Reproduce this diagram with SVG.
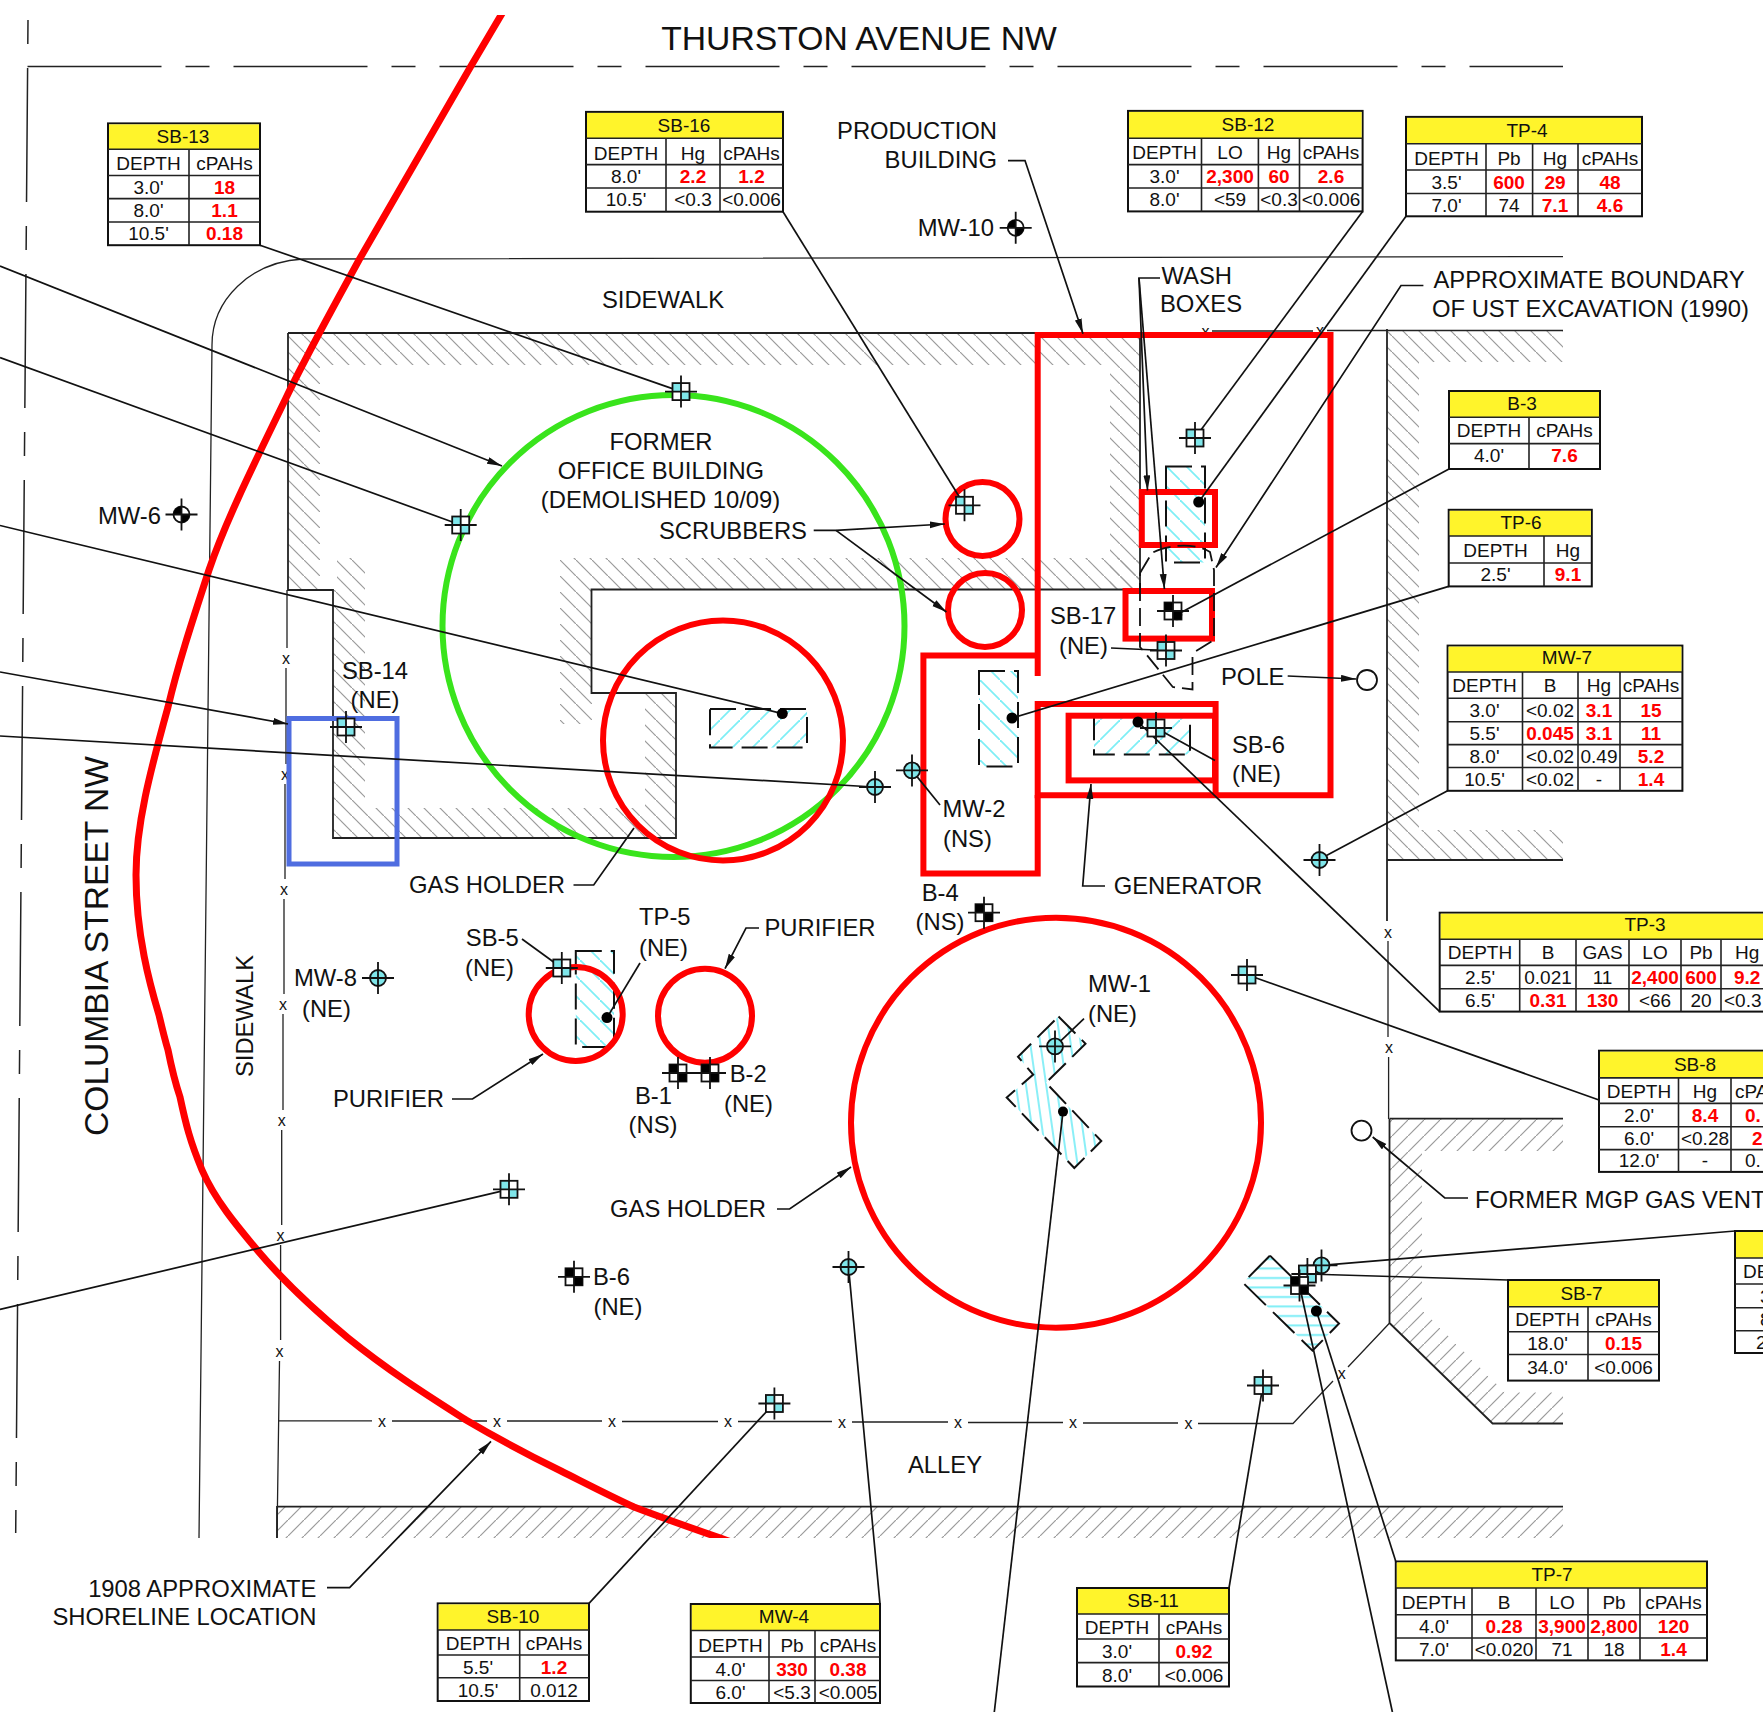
<svg xmlns="http://www.w3.org/2000/svg" width="1763" height="1712" viewBox="0 0 1763 1712">
<style>
text{font-family:"Liberation Sans",Arial,sans-serif;fill:#111}
.l{font-size:23.8px}
.e{text-anchor:end}
.m{text-anchor:middle}
.c{font-size:19px;text-anchor:middle;dominant-baseline:central}
.s{font-size:19px;dominant-baseline:central}
.v{font-weight:bold;fill:#ff0000}
.x{font-size:16px;text-anchor:middle;dominant-baseline:central}
.hd{fill:#fff42b}
.tb{fill:#fff;stroke:#111;stroke-width:2}
.gl{fill:none;stroke:#222;stroke-width:1.6}
.ld{fill:none;stroke:#111;stroke-width:1.7}
.fn{fill:none;stroke:#222;stroke-width:1.3}
.wl{fill:none;stroke:#222;stroke-width:1.8}
.rd{fill:none;stroke:#ff0000;stroke-width:6}
.ds{stroke:#111;stroke-width:2;stroke-dasharray:26 9}
.dot{fill:#000}
</style>
<defs>
<clipPath id="shc"><rect x="0" y="15" width="1763" height="1523"/></clipPath>
<pattern id="hb" patternUnits="userSpaceOnUse" width="16" height="16"><path d="M-2,-2L18,18" stroke="#9a9a9a" stroke-width="1.2"/></pattern>
<pattern id="hf" patternUnits="userSpaceOnUse" width="16" height="16"><path d="M18,-2L-2,18" stroke="#9a9a9a" stroke-width="1.2"/></pattern>
<pattern id="cb" patternUnits="userSpaceOnUse" width="20" height="20"><path d="M-2,-2L22,22" stroke="#7eeef6" stroke-width="1.8"/></pattern>
<pattern id="cf" patternUnits="userSpaceOnUse" width="20" height="20"><path d="M22,-2L-2,22" stroke="#7eeef6" stroke-width="1.8"/></pattern>
<pattern id="cv" patternUnits="userSpaceOnUse" width="10" height="10" patternTransform="rotate(-8)"><path d="M5,0V10" stroke="#7eeef6" stroke-width="1.8"/></pattern>
<pattern id="ch" patternUnits="userSpaceOnUse" width="10" height="9.5"><path d="M0,5H10" stroke="#7eeef6" stroke-width="2"/></pattern>
<marker id="ar" markerUnits="userSpaceOnUse" markerWidth="16" markerHeight="8" refX="15" refY="3.5" orient="auto"><path d="M0,0L15,3.5L0,7Z" fill="#111"/></marker>
<g id="sb"><rect x="-8.5" y="-8.5" width="17" height="17" fill="#fff"/><path d="M-8.5,-8.5H0V0H-8.5ZM0,0H8.5V8.5H0Z" fill="#7fe6ea"/><rect x="-8.5" y="-8.5" width="17" height="17" fill="none" stroke="#111" stroke-width="1.8"/><path d="M-16,0H16M0,-16V16" stroke="#111" stroke-width="1.8"/></g>
<g id="bb"><rect x="-8.5" y="-8.5" width="17" height="17" fill="#fff" stroke="#111" stroke-width="1.8"/><path d="M-8.5,-8.5H0V0H-8.5ZM0,0H8.5V8.5H0Z" fill="#000"/><path d="M-16,0H16M0,-16V16" stroke="#111" stroke-width="1.8"/></g>
<g id="mw"><circle r="8" fill="#7fe6ea" stroke="#111" stroke-width="1.8"/><path d="M-16,0H16M0,-16V16" stroke="#111" stroke-width="1.8"/></g>
<g id="mk"><circle r="8" fill="#fff" stroke="#111" stroke-width="1.8"/><path d="M0,-8A8,8 0 0 0 -8,0H0ZM0,0V8A8,8 0 0 0 8,0Z" fill="#000"/><path d="M-16,0H16M0,-16V16" stroke="#111" stroke-width="1.8"/></g>
</defs>
<rect width="1763" height="1712" fill="#fff"/>

<g id="site">
<path d="M27.5,66.4H1563" fill="none" stroke="#222" stroke-width="1.5" stroke-dasharray="134 24 24 24"/>
<path d="M28,20L15.7,1533" fill="none" stroke="#222" stroke-width="1.5" stroke-dasharray="24 24 134 24"/>
<path class="fn" d="M1563,256.6L303,259C250,262 212,300 212,345L199,1538"/>
<path fill="url(#hb)" d="M288,334H1140V589H1110V365H320V590H288Z"/>
<path fill="url(#hb)" d="M560,558H1140V589H592V724H560Z"/>
<path fill="url(#hb)" d="M337,558H365V808H645V693H676V838H333V590H337Z"/>
<path fill="url(#hb)" d="M1387,330H1563V362H1419V830H1563V860H1387Z"/>
<path fill="url(#hf)" d="M1390,1118.7H1563V1151H1422V1310L1505,1392.5H1563V1423.5H1492.6L1390,1323Z"/>
<path fill="url(#hf)" d="M277,1507H1563V1538H277Z"/>
<path class="wl" d="M288,333V590H333V838H676V693H591.5V589.5H1140V333M288,333H1195"/>
<path class="wl" d="M1387,329V921M1387,860H1563M1389.5,1118.7H1563M1389.5,1118.7V1323L1492.6,1423.5H1563M277,1506.6H1563M277,1538V1506"/>
<path class="fn" d="M1212,331H1313M1327,330.5H1563M1195,333H1199M287,590V648M286,668V764M285,784V879M284,899V994M283,1014V1110M281.7,1130V1225M280.6,1245V1340M279.5,1361L277,1538M278,1420.8H372M392,1421H487M507,1421H602M622,1421.5H718M738,1421.5H832M852,1422H948M968,1422.5H1063M1083,1423H1178M1198,1423.5H1293L1333,1381M1348,1367L1389.6,1323M1388,941V1037M1388.6,1057V1119"/>
<text class="x" x="1205.5" y="331">x</text><text class="x" x="1320" y="330">x</text>
<text class="x" x="286" y="658">x</text><text class="x" x="285" y="774">x</text><text class="x" x="284" y="889">x</text><text class="x" x="283" y="1004">x</text><text class="x" x="281.7" y="1120">x</text><text class="x" x="280.6" y="1235">x</text><text class="x" x="279.5" y="1351">x</text>
<text class="x" x="382" y="1421">x</text><text class="x" x="497" y="1421">x</text><text class="x" x="612" y="1421">x</text><text class="x" x="728" y="1421">x</text><text class="x" x="842" y="1422">x</text><text class="x" x="958" y="1422">x</text><text class="x" x="1073" y="1422">x</text><text class="x" x="1188.6" y="1423">x</text><text class="x" x="1341.7" y="1373.5">x</text>
<text class="x" x="1388" y="932">x</text><text class="x" x="1389" y="1047">x</text>
<circle cx="1367" cy="680" r="10" fill="#fff" stroke="#111" stroke-width="1.8"/>
<circle cx="1361.5" cy="1130.6" r="10" fill="#fff" stroke="#111" stroke-width="1.8"/>
</g>

<g id="excavations">
<rect class="ds" x="710" y="709" width="97" height="38.6" fill="url(#cf)"/>
<rect class="ds" x="1166" y="466.5" width="39" height="96" fill="url(#cb)"/>
<rect class="ds" x="979" y="671" width="39" height="95.5" fill="url(#cb)"/>
<rect class="ds" x="1094" y="715.7" width="96" height="38.8" fill="url(#cf)"/>
<rect class="ds" x="575.8" y="951" width="38.2" height="96" fill="url(#cb)"/>
<path class="ds" style="stroke-dasharray:24 9" fill="url(#cv)" d="M1058.5,1016.5L1085.5,1043.7L1046,1082.8L1101.3,1141L1074.3,1168L1006.7,1097.5L1033.2,1074.6L1018,1056.7Z"/>
<path class="ds" style="stroke-dasharray:30 10" fill="url(#ch)" d="M1270,1255.6L1339,1323.5L1312.5,1350.7L1243,1282.8Z"/>
</g>

<g id="outlines">
<path clip-path="url(#shc)" d="M510,0L471,66L359,260C330,313 305,358 286,398C255,462 226,520 209,570C190,628 178,665 168,707C150,772 136,825 136,875C136,935 150,985 159,1015C163,1032 165,1040 168,1050C172,1070 176,1085 180,1097C186,1125 190,1141 202,1170C215,1200 237,1226 258,1251C285,1283 318,1313 348,1338C390,1372 430,1397 466,1420C500,1440 530,1456 561,1471C585,1483 610,1496 634,1507C665,1519 700,1531 740,1545" fill="none" stroke="#ff0000" stroke-width="7"/>
<circle cx="673.5" cy="626" r="231" fill="none" stroke="#39e41c" stroke-width="6"/>
<rect x="289" y="718.5" width="108" height="145.5" fill="none" stroke="#4f6de0" stroke-width="5"/>
<circle class="rd" cx="723" cy="740.5" r="120"/>
<circle class="rd" cx="982.5" cy="519" r="37"/>
<circle class="rd" cx="985" cy="610" r="37"/>
<circle class="rd" cx="575.7" cy="1014" r="47"/>
<circle class="rd" cx="705" cy="1015.7" r="47"/>
<circle class="rd" cx="1056" cy="1122.7" r="205"/>
<path class="rd" d="M1037.7,676V335H1330.5V795.3H1037.7V704H1215.6V795.3"/>
<path class="rd" d="M1037.7,655.5H923.4V873.6H1037.7V795"/>
<rect class="rd" x="1068.6" y="715.7" width="146.4" height="64.7"/>
<rect class="rd" x="1141.8" y="492" width="73.2" height="53"/>
<rect class="rd" x="1125.5" y="591" width="86.5" height="47.6"/>
<path d="M1140,573L1152,553C1165,545 1195,542 1210,552L1214,570V640L1196,651M1192.5,657V689.4L1172.8,687L1146,654L1140,647V573" fill="none" stroke="#111" stroke-width="1.8" stroke-dasharray="18 7"/>
</g>

<g id="connectors">
<path class="ld" d="M260,245.2L681,391.6"/>
<path class="ld" marker-end="url(#ar)" d="M0,266L502,466"/>
<path class="ld" d="M0,357.6L460.7,525"/>
<path class="ld" d="M0,525.5L782.3,713.6"/>
<path class="ld" marker-end="url(#ar)" d="M0,672L288,724"/>
<path class="ld" d="M0,736L874,787"/>
<path class="ld" d="M783,211.7L964.5,505.3"/>
<path class="ld" marker-end="url(#ar)" d="M1008,160.6H1025L1083,333.7"/>
<path class="ld" marker-end="url(#ar)" d="M1160,278H1139L1147.5,490.4"/>
<path class="ld" marker-end="url(#ar)" d="M1139,278L1164.4,589"/>
<path class="ld" d="M1362.6,211.4L1195,438"/>
<path class="ld" d="M1406,216.3L1198.7,502"/>
<path class="ld" marker-end="url(#ar)" d="M1423.4,285.5H1401L1216,567.5"/>
<path class="ld" d="M1449,469L1176.8,614.8"/>
<path class="ld" d="M1448.7,586.4L1012,718"/>
<path class="ld" d="M1447.6,790.8L1319,859.5"/>
<path class="ld" marker-end="url(#ar)" d="M813.7,530.4H836L944.8,524"/>
<path class="ld" marker-end="url(#ar)" d="M836,530.4L946.4,612"/>
<path class="ld" marker-end="url(#ar)" d="M1287.7,676L1356,679"/>
<path class="ld" d="M1111,648L1166,650.5"/>
<path class="ld" d="M1156,728L1215,760.5"/>
<path class="ld" d="M1439.7,1011.6L1138,722"/>
<path class="ld" marker-end="url(#ar)" d="M1105,886H1082.7L1091,784"/>
<path class="ld" d="M912,770.4L940,805"/>
<path class="ld" d="M573.5,885H593.7L634,828"/>
<path class="ld" d="M522,939L561.8,968"/>
<path class="ld" d="M640,963L607,1017.6"/>
<path class="ld" marker-end="url(#ar)" d="M759,928H746L725,968.7"/>
<path class="ld" marker-end="url(#ar)" d="M452,1099H472.5L543,1054"/>
<path class="ld" marker-end="url(#ar)" d="M777,1209H789.6L851,1167"/>
<path class="ld" d="M0,1309.4L509,1189.3"/>
<path class="ld" marker-end="url(#ar)" d="M327,1587.6H349.6L491,1441.4"/>
<path class="ld" d="M589,1603.4L774.4,1403"/>
<path class="ld" d="M880,1604L848.5,1267"/>
<path class="ld" d="M1084,1018.7L1055,1046.4"/>
<path class="ld" d="M1063,1111.6L994.3,1712"/>
<path class="ld" d="M1247,974.7L1599,1100"/>
<path class="ld" marker-end="url(#ar)" d="M1468,1198H1444.8L1372.7,1137"/>
<path class="ld" d="M1321.5,1265.4L1735,1231"/>
<path class="ld" d="M1307.4,1274L1508,1280"/>
<path class="ld" d="M1395.8,1561.5L1316.4,1311"/>
<path class="ld" d="M1299.5,1285.5L1392.4,1712"/>
<path class="ld" d="M1229,1588L1263,1385"/>
<circle class="dot" cx="782.3" cy="713.6" r="5.5"/><circle class="dot" cx="1198.7" cy="502" r="5.5"/><circle class="dot" cx="1176.8" cy="614.8" r="5.5"/><circle class="dot" cx="1012" cy="718" r="5.5"/><circle class="dot" cx="1138" cy="722" r="5.5"/><circle class="dot" cx="607" cy="1017.6" r="5.5"/><circle class="dot" cx="1063" cy="1111.6" r="5"/><circle class="dot" cx="1316.4" cy="1311" r="5.5"/>
</g>

<g id="markers">
<g id="m-sb13"><use href="#sb" x="681" y="391.6"/></g>
<g id="m-sbw1"><use href="#sb" x="460.7" y="525"/></g>
<g id="m-sb14"><use href="#sb" x="346" y="727"/></g>
<g id="m-mwc"><use href="#mw" x="875" y="787"/></g>
<g id="m-mw6"><use href="#mk" x="181.5" y="514.5"/></g>
<g id="m-sb16"><use href="#sb" x="964.5" y="505.3"/></g>
<g id="m-sb12"><use href="#sb" x="1195" y="438"/></g>
<g id="m-b3"><use href="#bb" x="1173" y="611"/></g>
<g id="m-sb17"><use href="#sb" x="1166" y="650.5"/></g>
<g id="m-mw2"><use href="#mw" x="912" y="770.4"/></g>
<g id="m-sb6"><use href="#sb" x="1156" y="728"/></g>
<g id="m-mw7"><use href="#mw" x="1319.5" y="860"/></g>
<g id="m-mw10"><use href="#mk" x="1015.7" y="227.8"/></g>
<g id="m-mw8"><use href="#mw" x="378" y="978"/></g>
<g id="m-sb5"><use href="#sb" x="561.8" y="968"/></g>
<g id="m-b1"><use href="#bb" x="678" y="1073"/></g>
<g id="m-b2"><use href="#bb" x="710" y="1073"/></g>
<g id="m-sbw2"><use href="#sb" x="509" y="1189.3"/></g>
<g id="m-b6"><use href="#bb" x="574" y="1276.8"/></g>
<g id="m-mw4"><use href="#mw" x="848.5" y="1267"/></g>
<g id="m-sb10"><use href="#sb" x="774.4" y="1403.5"/></g>
<g id="m-b4"><use href="#bb" x="984" y="912.7"/></g>
<g id="m-sb8"><use href="#sb" x="1247" y="975"/></g>
<g id="m-mw1"><use href="#mw" x="1055" y="1046.4"/></g>
<g id="m-mwe"><use href="#mw" x="1321.5" y="1265.4"/></g>
<g id="m-sb7"><use href="#sb" x="1307.4" y="1274"/></g>
<g id="m-be"><use href="#bb" x="1299.5" y="1285.5"/></g>
<g id="m-sb11"><use href="#sb" x="1263" y="1385.5"/></g>
</g>

<g id="labels">
<text class="m" x="859" y="50" style="font-size:33.7px">THURSTON AVENUE NW</text>
<text class="m" transform="translate(108,946) rotate(-90)" style="font-size:33.6px">COLUMBIA STREET NW</text>
<text class="l m" transform="translate(253,1016) rotate(-90)">SIDEWALK</text>
<text class="l m" x="663" y="308">SIDEWALK</text>
<text class="l m" x="661" y="449.8">FORMER</text>
<text class="l m" x="661" y="479.4">OFFICE BUILDING</text>
<text class="l m" x="660.5" y="508">(DEMOLISHED 10/09)</text>
<text class="l e" x="807" y="539">SCRUBBERS</text>
<text class="l m" x="375" y="679">SB-14</text><text class="l m" x="375" y="708">(NE)</text>
<text class="l e" x="161" y="523.8">MW-6</text>
<text class="l e" x="997" y="138.7">PRODUCTION</text><text class="l e" x="997" y="168">BUILDING</text>
<text class="l e" x="994" y="235.7">MW-10</text>
<text class="l" x="1161.5" y="284">WASH</text><text class="l" x="1160" y="312">BOXES</text>
<text class="l" x="1433.5" y="288">APPROXIMATE BOUNDARY</text><text class="l" x="1432" y="317.3">OF UST EXCAVATION (1990)</text>
<text class="l" x="1050" y="624">SB-17</text><text class="l" x="1059" y="654">(NE)</text>
<text class="l" x="1221" y="685">POLE</text>
<text class="l" x="1232" y="752.5">SB-6</text><text class="l" x="1232" y="782.4">(NE)</text>
<text class="l" x="942.5" y="817">MW-2</text><text class="l" x="943" y="846.5">(NS)</text>
<text class="l" x="409" y="893">GAS HOLDER</text>
<text class="l" x="1113.7" y="894">GENERATOR</text>
<text class="l" x="921.7" y="901">B-4</text><text class="l" x="915.6" y="929.6">(NS)</text>
<text class="l" x="1088" y="992">MW-1</text><text class="l" x="1088" y="1021.5">(NE)</text>
<text class="l" x="465.8" y="946">SB-5</text><text class="l" x="465" y="975.8">(NE)</text>
<text class="l" x="639" y="925.3">TP-5</text><text class="l" x="639" y="955.7">(NE)</text>
<text class="l" x="764.5" y="936">PURIFIER</text>
<text class="l" x="294" y="986">MW-8</text><text class="l" x="302" y="1016.6">(NE)</text>
<text class="l" x="333" y="1107">PURIFIER</text>
<text class="l" x="729.7" y="1082">B-2</text><text class="l" x="724" y="1111.7">(NE)</text>
<text class="l" x="635" y="1104">B-1</text><text class="l" x="628.6" y="1132.5">(NS)</text>
<text class="l" x="610" y="1217">GAS HOLDER</text>
<text class="l" x="593" y="1285">B-6</text><text class="l" x="593.5" y="1315">(NE)</text>
<text class="l e" x="316.5" y="1596.5">1908 APPROXIMATE</text><text class="l e" x="316.5" y="1625">SHORELINE LOCATION</text>
<text class="l" x="908" y="1473">ALLEY</text>
<text class="l" x="1475" y="1207.8">FORMER MGP GAS VENT</text>
</g>

<g id="t-sb13"><rect class="tb" x="108" y="123.4" width="152" height="121.8"/><rect class="hd" x="109" y="124.4" width="150" height="24.8"/>
<path class="gl" d="M108,149.2H260M108,175.5H260M108,198.6H260M108,222H260M189,149.2V245.2"/>
<text class="c" x="183" y="136.5">SB-13</text><text class="c" x="148.5" y="163">DEPTH</text><text class="c" x="224.5" y="163">cPAHs</text>
<text class="c" x="148.5" y="187">3.0'</text><text class="c v" x="224.5" y="187">18</text>
<text class="c" x="148.5" y="210">8.0'</text><text class="c v" x="224.5" y="210">1.1</text>
<text class="c" x="148.5" y="233">10.5'</text><text class="c v" x="224.5" y="233">0.18</text></g>

<g id="t-sb16"><rect class="tb" x="586" y="111.9" width="197" height="99.8"/><rect class="hd" x="587" y="112.9" width="195" height="25.3"/>
<path class="gl" d="M586,138.2H783M586,164.6H783M586,188H783M666,138.2V211.7M720,138.2V211.7"/>
<text class="c" x="684" y="125.5">SB-16</text><text class="c" x="626" y="153">DEPTH</text><text class="c" x="693" y="153">Hg</text><text class="c" x="751.5" y="153">cPAHs</text>
<text class="c" x="626" y="176">8.0'</text><text class="c v" x="693" y="176">2.2</text><text class="c v" x="751.5" y="176">1.2</text>
<text class="c" x="626" y="199.5">10.5'</text><text class="c" x="693" y="199.5">&lt;0.3</text><text class="c" x="751.5" y="199.5">&lt;0.006</text></g>

<g id="t-sb12"><rect class="tb" x="1128" y="110.9" width="234.6" height="100.5"/><rect class="hd" x="1129" y="111.9" width="232.6" height="26.3"/>
<path class="gl" d="M1128,138.2H1362.6M1128,164.6H1362.6M1128,188H1362.6M1201.5,138.2V211.4M1258.4,138.2V211.4M1299.5,138.2V211.4"/>
<text class="c" x="1248" y="124.5">SB-12</text><text class="c" x="1164.5" y="152.5">DEPTH</text><text class="c" x="1230" y="152.5">LO</text><text class="c" x="1279" y="152.5">Hg</text><text class="c" x="1331" y="152.5">cPAHs</text>
<text class="c" x="1164.5" y="176">3.0'</text><text class="c v" x="1230" y="176">2,300</text><text class="c v" x="1279" y="176">60</text><text class="c v" x="1331" y="176">2.6</text>
<text class="c" x="1164.5" y="199.5">8.0'</text><text class="c" x="1230" y="199.5">&lt;59</text><text class="c" x="1279" y="199.5">&lt;0.3</text><text class="c" x="1331" y="199.5">&lt;0.006</text></g>

<g id="t-tp4"><rect class="tb" x="1406" y="116.9" width="236" height="99.4"/><rect class="hd" x="1407" y="117.9" width="234" height="25.8"/>
<path class="gl" d="M1406,143.7H1642M1406,170H1642M1406,193.5H1642M1486,143.7V216.3M1532.6,143.7V216.3M1578,143.7V216.3"/>
<text class="c" x="1527" y="130.5">TP-4</text><text class="c" x="1446.5" y="158">DEPTH</text><text class="c" x="1509" y="158">Pb</text><text class="c" x="1555" y="158">Hg</text><text class="c" x="1610" y="158">cPAHs</text>
<text class="c" x="1446.5" y="182">3.5'</text><text class="c v" x="1509" y="182">600</text><text class="c v" x="1555" y="182">29</text><text class="c v" x="1610" y="182">48</text>
<text class="c" x="1446.5" y="205">7.0'</text><text class="c" x="1509" y="205">74</text><text class="c v" x="1555" y="205">7.1</text><text class="c v" x="1610" y="205">4.6</text></g>

<g id="t-b3"><rect class="tb" x="1449" y="391" width="151" height="78"/><rect class="hd" x="1450" y="392" width="149" height="25.3"/>
<path class="gl" d="M1449,417.3H1600M1449,443.6H1600M1529,417.3V469"/>
<text class="c" x="1522" y="403.5">B-3</text><text class="c" x="1489" y="430.5">DEPTH</text><text class="c" x="1564.5" y="430.5">cPAHs</text>
<text class="c" x="1489" y="455.5">4.0'</text><text class="c v" x="1564.5" y="455.5">7.6</text></g>

<g id="t-tp6"><rect class="tb" x="1448.7" y="509.8" width="143.1" height="76.6"/><rect class="hd" x="1449.7" y="510.8" width="141.1" height="25.2"/>
<path class="gl" d="M1448.7,536H1591.8M1448.7,563H1591.8M1544,536V586.4"/>
<text class="c" x="1521" y="522">TP-6</text><text class="c" x="1495.5" y="550">DEPTH</text><text class="c" x="1568" y="550">Hg</text>
<text class="c" x="1495.5" y="574">2.5'</text><text class="c v" x="1568" y="574">9.1</text></g>

<g id="t-mw7"><rect class="tb" x="1447.6" y="645.6" width="234.8" height="145.2"/><rect class="hd" x="1448.6" y="646.6" width="232.8" height="25.4"/>
<path class="gl" d="M1447.6,672H1682.4M1447.6,698.3H1682.4M1447.6,721.7H1682.4M1447.6,744.6H1682.4M1447.6,767.5H1682.4M1522.5,672V790.8M1578,672V790.8M1620,672V790.8"/>
<text class="c" x="1567" y="657.5">MW-7</text><text class="c" x="1484.5" y="685">DEPTH</text><text class="c" x="1550" y="685">B</text><text class="c" x="1599" y="685">Hg</text><text class="c" x="1651" y="685">cPAHs</text>
<text class="c" x="1484.5" y="710">3.0'</text><text class="c" x="1550" y="710">&lt;0.02</text><text class="c v" x="1599" y="710">3.1</text><text class="c v" x="1651" y="710">15</text>
<text class="c" x="1484.5" y="733">5.5'</text><text class="c v" x="1550" y="733">0.045</text><text class="c v" x="1599" y="733">3.1</text><text class="c v" x="1651" y="733">11</text>
<text class="c" x="1484.5" y="756">8.0'</text><text class="c" x="1550" y="756">&lt;0.02</text><text class="c" x="1599" y="756">0.49</text><text class="c v" x="1651" y="756">5.2</text>
<text class="c" x="1484.5" y="779">10.5'</text><text class="c" x="1550" y="779">&lt;0.02</text><text class="c" x="1599" y="779">-</text><text class="c v" x="1651" y="779">1.4</text></g>

<g id="t-tp3"><rect class="tb" x="1439.7" y="912.7" width="330" height="98.9"/><rect class="hd" x="1440.7" y="913.7" width="330" height="25.6"/>
<path class="gl" d="M1439.7,939.3H1770M1439.7,965.4H1770M1439.7,988.8H1770M1519.7,939.3V1011.6M1576,939.3V1011.6M1629,939.3V1011.6M1681,939.3V1011.6M1721,939.3V1011.6"/>
<text class="c" x="1645" y="924.5">TP-3</text><text class="c" x="1480" y="952.5">DEPTH</text><text class="c" x="1548" y="952.5">B</text><text class="c" x="1602.5" y="952.5">GAS</text><text class="c" x="1655" y="952.5">LO</text><text class="c" x="1701" y="952.5">Pb</text><text class="s" x="1735" y="952.5">Hg</text>
<text class="c" x="1480" y="977">2.5'</text><text class="c" x="1548" y="977">0.021</text><text class="c" x="1602.5" y="977">11</text><text class="c v" x="1655" y="977">2,400</text><text class="c v" x="1701" y="977">600</text><text class="s v" x="1734" y="977">9.2</text>
<text class="c" x="1480" y="1000">6.5'</text><text class="c v" x="1548" y="1000">0.31</text><text class="c v" x="1602.5" y="1000">130</text><text class="c" x="1655" y="1000">&lt;66</text><text class="c" x="1701" y="1000">20</text><text class="s" x="1724" y="1000">&lt;0.3</text></g>

<g id="t-sb8"><rect class="tb" x="1599" y="1050.7" width="170" height="121.2"/><rect class="hd" x="1600" y="1051.7" width="170" height="26.2"/>
<path class="gl" d="M1599,1077.9H1770M1599,1103.4H1770M1599,1126.8H1770M1599,1149.6H1770M1678.5,1077.9V1171.9M1731,1077.9V1171.9"/>
<text class="c" x="1695" y="1064.5">SB-8</text><text class="c" x="1639" y="1091">DEPTH</text><text class="c" x="1705" y="1091">Hg</text><text class="s" x="1735" y="1091">cPA</text>
<text class="c" x="1639" y="1115">2.0'</text><text class="c v" x="1705" y="1115">8.4</text><text class="s v" x="1745" y="1115">0.</text>
<text class="c" x="1639" y="1138">6.0'</text><text class="c" x="1705" y="1138">&lt;0.28</text><text class="s v" x="1752" y="1138">2</text>
<text class="c" x="1639" y="1160.5">12.0'</text><text class="c" x="1705" y="1160.5">-</text><text class="s" x="1745" y="1160.5">0.</text></g>

<g id="t-part"><rect class="tb" x="1735" y="1231" width="40" height="122"/><rect class="hd" x="1736" y="1232" width="40" height="26"/>
<path class="gl" d="M1735,1258H1770M1735,1284H1770M1735,1307.7H1770M1735,1330.7H1770"/>
<text class="s" x="1743" y="1271">DE</text><text class="s" x="1760" y="1296">3</text><text class="s" x="1760" y="1319">8</text><text class="s" x="1756" y="1342">2</text></g>

<g id="t-sb7"><rect class="tb" x="1508" y="1280" width="151" height="100.6"/><rect class="hd" x="1509" y="1281" width="149" height="25.7"/>
<path class="gl" d="M1508,1306.7H1659M1508,1331.7H1659M1508,1354.5H1659M1588,1306.7V1380.6"/>
<text class="c" x="1581.5" y="1293">SB-7</text><text class="c" x="1547.5" y="1319.5">DEPTH</text><text class="c" x="1623.5" y="1319.5">cPAHs</text>
<text class="c" x="1547.5" y="1343.5">18.0'</text><text class="c v" x="1623.5" y="1343.5">0.15</text>
<text class="c" x="1547.5" y="1367.5">34.0'</text><text class="c" x="1623.5" y="1367.5">&lt;0.006</text></g>

<g id="t-tp7"><rect class="tb" x="1395.8" y="1561.5" width="311.2" height="98.9"/><rect class="hd" x="1396.8" y="1562.5" width="309.2" height="25.5"/>
<path class="gl" d="M1395.8,1588H1707M1395.8,1614.8H1707M1395.8,1638H1707M1472,1588V1660.4M1536,1588V1660.4M1588,1588V1660.4M1640,1588V1660.4"/>
<text class="c" x="1552" y="1574.5">TP-7</text><text class="c" x="1434" y="1602">DEPTH</text><text class="c" x="1504" y="1602">B</text><text class="c" x="1562" y="1602">LO</text><text class="c" x="1614" y="1602">Pb</text><text class="c" x="1673.5" y="1602">cPAHs</text>
<text class="c" x="1434" y="1626.5">4.0'</text><text class="c v" x="1504" y="1626.5">0.28</text><text class="c v" x="1562" y="1626.5">3,900</text><text class="c v" x="1614" y="1626.5">2,800</text><text class="c v" x="1673.5" y="1626.5">120</text>
<text class="c" x="1434" y="1649.5">7.0'</text><text class="c" x="1504" y="1649.5">&lt;0.020</text><text class="c" x="1562" y="1649.5">71</text><text class="c" x="1614" y="1649.5">18</text><text class="c v" x="1673.5" y="1649.5">1.4</text></g>

<g id="t-sb11"><rect class="tb" x="1077" y="1588" width="152" height="98.5"/><rect class="hd" x="1078" y="1589" width="150" height="25"/>
<path class="gl" d="M1077,1614H1229M1077,1639H1229M1077,1662.6H1229M1159,1614V1686.5"/>
<text class="c" x="1153" y="1600.5">SB-11</text><text class="c" x="1117" y="1627">DEPTH</text><text class="c" x="1194" y="1627">cPAHs</text>
<text class="c" x="1117" y="1651">3.0'</text><text class="c v" x="1194" y="1651">0.92</text>
<text class="c" x="1117" y="1675">8.0'</text><text class="c" x="1194" y="1675">&lt;0.006</text></g>

<g id="t-sb10"><rect class="tb" x="437.7" y="1603.4" width="151.3" height="97.6"/><rect class="hd" x="438.7" y="1604.4" width="149.3" height="25.6"/>
<path class="gl" d="M437.7,1630H589M437.7,1655H589M437.7,1677.8H589M519.7,1630V1701"/>
<text class="c" x="513" y="1616">SB-10</text><text class="c" x="478" y="1643">DEPTH</text><text class="c" x="554" y="1643">cPAHs</text>
<text class="c" x="478" y="1667">5.5'</text><text class="c v" x="554" y="1667">1.2</text>
<text class="c" x="478" y="1690">10.5'</text><text class="c" x="554" y="1690">0.012</text></g>

<g id="t-mw4"><rect class="tb" x="690.8" y="1604" width="189.2" height="99"/><rect class="hd" x="691.8" y="1605" width="187.2" height="25.5"/>
<path class="gl" d="M690.8,1630.5H880M690.8,1657H880M690.8,1680.5H880M769,1630.5V1703M815,1630.5V1703"/>
<text class="c" x="784" y="1616">MW-4</text><text class="c" x="730.5" y="1645">DEPTH</text><text class="c" x="792" y="1645">Pb</text><text class="c" x="848" y="1645">cPAHs</text>
<text class="c" x="730.5" y="1669">4.0'</text><text class="c v" x="792" y="1669">330</text><text class="c v" x="848" y="1669">0.38</text>
<text class="c" x="730.5" y="1692">6.0'</text><text class="c" x="792" y="1692">&lt;5.3</text><text class="c" x="848" y="1692">&lt;0.005</text></g>
</svg>
